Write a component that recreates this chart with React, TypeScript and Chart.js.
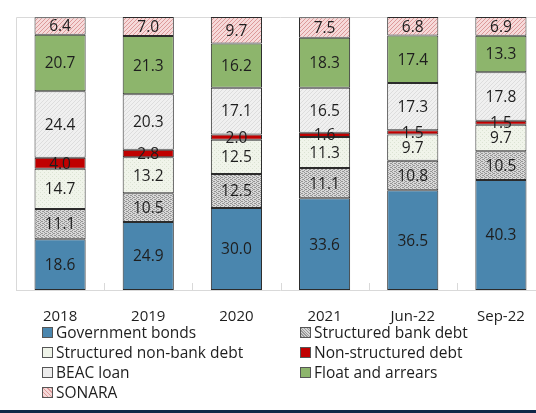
import React, { useEffect, useRef } from "react";
import { Chart, registerables } from "chart.js";

Chart.register(...registerables);

const categories = ["2018", "2019", "2020", "2021", "Jun-22", "Sep-22"];
const governmentBonds = [18.6, 24.9, 30.0, 33.6, 36.5, 40.3];
const structuredBankDebt = [11.1, 10.5, 12.5, 11.1, 10.8, 10.5];
const structuredNonBankDebt = [14.7, 13.2, 12.5, 11.3, 9.7, 9.7];
const nonStructuredDebt = [4.0, 2.8, 2.0, 1.6, 1.5, 1.5];
const beacLoan = [24.4, 20.3, 17.1, 16.5, 17.3, 17.8];
const floatAndArrears = [20.7, 21.3, 16.2, 18.3, 17.4, 13.3];
const sonara = [6.4, 7.0, 9.7, 7.5, 6.8, 6.9];

const seriesNames = [
  "Government bonds",
  "Structured bank debt",
  "Structured non-bank debt",
  "Non-structured debt",
  "BEAC loan",
  "Float and arrears",
  "SONARA",
];
const seriesValues = [
  governmentBonds,
  structuredBankDebt,
  structuredNonBankDebt,
  nonStructuredDebt,
  beacLoan,
  floatAndArrears,
  sonara,
];

const FONT = '"Open Sans", "Noto Sans", sans-serif';

function makePattern(bg: string, fg: string, kind: string): CanvasPattern | string {
  const c = document.createElement("canvas");
  c.width = 4;
  c.height = 4;
  const g = c.getContext("2d");
  if (!g) return bg;
  g.fillStyle = bg;
  g.fillRect(0, 0, 4, 4);
  g.fillStyle = fg;
  if (kind === "dots") {
    g.fillRect(0, 0, 1, 1);
    g.fillRect(2, 1, 1, 1);
    g.fillRect(0, 2, 1, 1);
    g.fillRect(2, 3, 1, 1);
    g.fillRect(1, 1, 1, 1);
    g.fillRect(3, 3, 1, 1);
  } else if (kind === "sparse") {
    g.fillRect(0, 0, 1, 1);
    g.fillRect(2, 2, 1, 1);
  } else if (kind === "diag") {
    g.fillRect(3, 0, 1, 1);
    g.fillRect(2, 1, 1, 1);
    g.fillRect(1, 2, 1, 1);
    g.fillRect(0, 3, 1, 1);
  }
  const p = g.createPattern(c, "repeat");
  return p || bg;
}

const legendCss = [
  "#4a86ae",
  "repeating-linear-gradient(45deg,#999 0 1px,#d6d6d6 1px 2px)",
  "#eef3e8",
  "#c00000",
  "#ececec",
  "#8db56c",
  "repeating-linear-gradient(45deg,#dc9a9a 0 1px,#f5d8d8 1px 3px)",
];

export default function App() {
  const ref = useRef<HTMLCanvasElement | null>(null);

  useEffect(() => {
    const canvas = ref.current;
    if (!canvas) return;
    const fills: (CanvasPattern | string)[] = [
      "#4a86ae",
      makePattern("#d8d8d8", "#959595", "dots"),
      makePattern("#f0f4ea", "#dbe3d3", "sparse"),
      "#c00000",
      makePattern("#f0f0f0", "#dddddd", "diag"),
      "#8db56c",
      makePattern("#f6dada", "#dc9999", "diag"),
    ];

    const labelsPlugin = {
      id: "segLabels",
      afterDatasetsDraw(chart: any) {
        const ctx = chart.ctx;
        ctx.save();
        ctx.font = `15.5px ${FONT}`;
        ctx.fillStyle = "#1e1e1e";
        ctx.textAlign = "center";
        ctx.textBaseline = "middle";
        chart.data.datasets.forEach((ds: any, di: number) => {
          const meta = chart.getDatasetMeta(di);
          meta.data.forEach((bar: any, i: number) => {
            const v = ds.data[i];
            const y = (bar.y + bar.base) / 2;
            ctx.fillText(Number(v).toFixed(1), bar.x, y + 1);
          });
        });
        ctx.restore();
      },
    };

    const framePlugin = {
      id: "frame",
      beforeDatasetsDraw(chart: any) {
        const { ctx, chartArea } = chart;
        const { left, top, right, bottom } = chartArea;
        ctx.save();
        ctx.strokeStyle = "#d9d9d9";
        ctx.lineWidth = 1;
        ctx.beginPath();
        ctx.moveTo(left + 0.5, bottom + 0.5);
        ctx.lineTo(left + 0.5, top + 0.5);
        ctx.lineTo(right, top + 0.5);
        ctx.moveTo(left, bottom + 0.5);
        ctx.lineTo(right, bottom + 0.5);
        const xs = chart.scales.x;
        const n = chart.data.labels.length;
        for (let i = 1; i < n; i++) {
          const x = Math.round((xs.getPixelForValue(i - 1) + xs.getPixelForValue(i)) / 2) + 0.5;
          ctx.moveTo(x, bottom - 7);
          ctx.lineTo(x, bottom);
        }
        ctx.stroke();
        ctx.restore();
      },
    };

    const chart = new Chart(canvas, {
      type: "bar",
      data: {
        labels: categories,
        datasets: seriesNames.map((name, i) => ({
          label: name,
          data: seriesValues[i],
          backgroundColor: fills[i] as any,
          borderColor: "#2b2b2b",
          borderWidth: 1,
          borderSkipped: false,
          barPercentage: 0.58,
          categoryPercentage: 1,
        })),
      },
      options: {
        animation: false,
        responsive: false,
        devicePixelRatio: 1,
        layout: { padding: { left: 16, top: 17, right: 0, bottom: 0 } },
        plugins: {
          legend: { display: false },
          tooltip: { enabled: false },
          title: { display: false },
        },
        scales: {
          x: {
            stacked: true,
            grid: { display: false, drawTicks: false },
            border: { display: false },
            ticks: {
              color: "#1e1e1e",
              font: { family: FONT, size: 15 },
              padding: 18,
              maxRotation: 0,
              autoSkip: false,
            },
            afterFit: (s: any) => {
              s.height = 40;
            },
          },
          y: {
            stacked: true,
            display: false,
            min: 0,
            max: 100,
          },
        },
      },
      plugins: [framePlugin, labelsPlugin],
    });
    return () => chart.destroy();
  }, []);

  return (
    <div
      style={{
        position: "absolute",
        left: 0,
        top: 0,
        width: 536,
        height: 413,
        overflow: "hidden",
        background: "#fff",
        fontFamily: FONT,
      }}
    >
      <canvas ref={ref} width={545} height={330} style={{ position: "absolute", left: 0, top: 0 }} />
      {seriesNames.map((name, i) => {
        const col = i % 2;
        const row = Math.floor(i / 2);
        const bx = col === 0 ? 42 : 300;
        const cy = 332 + row * 20;
        return (
          <div key={name}>
            <div
              style={{
                position: "absolute",
                left: bx,
                top: cy - 5,
                width: 9,
                height: 9,
                background: legendCss[i],
                border: "1px solid #555",
              }}
            />
            <div
              style={{
                position: "absolute",
                left: bx + 14,
                top: cy - 11,
                height: 22,
                lineHeight: "22px",
                fontSize: 15.5,
                color: "#1e1e1e",
                whiteSpace: "nowrap",
              }}
            >
              {name}
            </div>
          </div>
        );
      })}
      <div
        style={{
          position: "absolute",
          left: 0,
          top: 410,
          width: 536,
          height: 3,
          background: "#0e2748",
        }}
      />
    </div>
  );
}
